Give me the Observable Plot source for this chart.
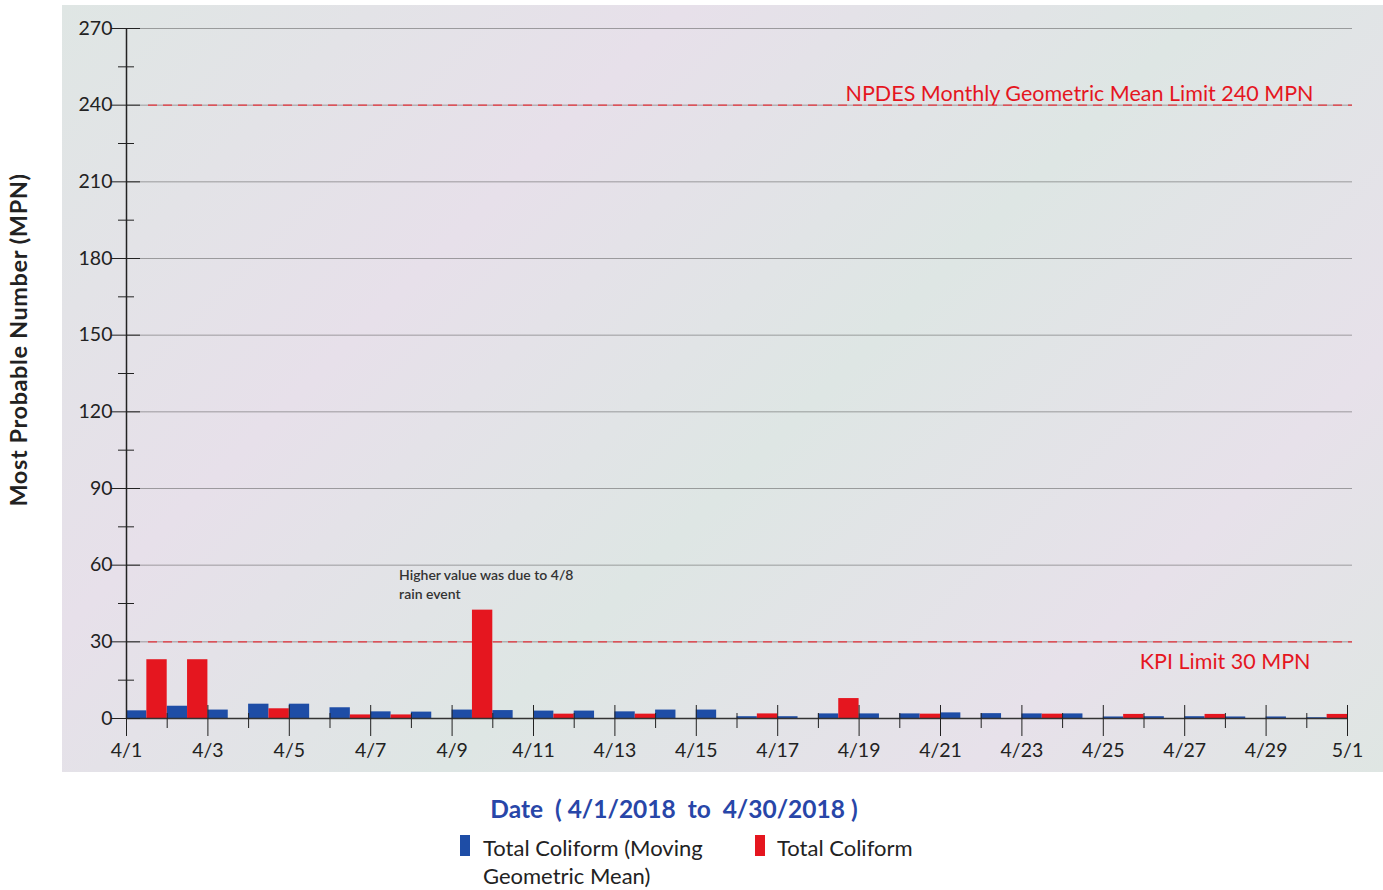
<!DOCTYPE html>
<html>
<head>
<meta charset="utf-8">
<script src="https://cdn.jsdelivr.net/npm/d3@7"></script>
<script src="https://cdn.jsdelivr.net/npm/@observablehq/plot@0.6"></script>
<style>
  body { margin: 0; background: #fff; font-family: Lato, "Open Sans", sans-serif; }
  #page { position: relative; width: 1383px; height: 890px; overflow: hidden; }
  #panel {
    position: absolute; left: 62px; top: 5px; width: 1321px; height: 767px;
    background: linear-gradient(135deg, #dfe6e4 0%, #e7e0ea 30%, #dee6e4 55%, #e7e1ea 80%, #dfe6e3 100%);
  }
  #chart { position: absolute; left: 0; top: 0; }
  #ytitle {
    position: absolute; left: 18px; top: 340px; transform: translate(-50%, -50%) rotate(-90deg);
    font-weight: 700; font-size: 23.5px; color: #222; white-space: nowrap; letter-spacing: 0.6px;
  }
  #xtitle {
    position: absolute; left: 674px; top: 808px; transform: translate(-50%, -50%);
    font-weight: 700; font-size: 24.5px; color: #2846a8; white-space: pre;
  }
  .sw { position: absolute; width: 10px; height: 21px; }
  .lt { position: absolute; font-size: 22px; color: #222; line-height: 28px; white-space: nowrap; }
</style>
</head>
<body>
<div id="page">
  <div id="panel"></div>
  <div id="chart"></div>
  <div id="ytitle">Most Probable Number (MPN)</div>
  <div id="xtitle">Date  ( 4/1/2018  to  4/30/2018 )</div>
  <div class="sw" style="left:460px; top:835px; background:#1e4da6;"></div>
  <div class="lt" style="left:483px; top:834px;">Total Coliform (Moving<br>Geometric Mean)</div>
  <div class="sw" style="left:755px; top:835px; background:#e5161f;"></div>
  <div class="lt" style="left:777px; top:834px;">Total Coliform</div>
</div>
<script>
// Daily sampling dates, April 2018
const dates = [
  "2018-04-01", "2018-04-02", "2018-04-03", "2018-04-04", "2018-04-05",
  "2018-04-06", "2018-04-07", "2018-04-08", "2018-04-09", "2018-04-10",
  "2018-04-11", "2018-04-12", "2018-04-13", "2018-04-14", "2018-04-15",
  "2018-04-16", "2018-04-17", "2018-04-18", "2018-04-19", "2018-04-20",
  "2018-04-21", "2018-04-22", "2018-04-23", "2018-04-24", "2018-04-25",
  "2018-04-26", "2018-04-27", "2018-04-28", "2018-04-29", "2018-04-30"
];

// Total coliform, moving geometric mean (MPN)
const movingGeoMean = [
  3.0, 4.8, 3.3, 5.6, 5.6, 4.2, 2.6, 2.5, 3.3, 3.1,
  2.9, 2.9, 2.6, 3.3, 3.3, 0.7, 0.7, 1.8, 1.8, 1.8,
  2.2, 1.9, 1.8, 1.8, 0.6, 0.7, 0.7, 0.6, 0.6, 0.3
];

// Total coliform, daily sample (MPN); null = no sample that day
const totalColiform = [
  23, 23, null, 3.8, null, 1.4, 1.4, null, 42.4, null,
  1.7, null, 1.7, null, null, 1.8, null, 7.8, null, 1.7,
  null, null, 1.7, null, 1.6, null, 1.6, null, null, 1.6
];

// Regulatory limits
const limitValues = [240, 30];
const limitLabels = ["NPDES Monthly Geometric Mean Limit 240 MPN", "KPI Limit 30 MPN"];

// Annotation
const noteDates = ["2018-04-09"];
const noteTexts = ["Higher value was due to 4/8\nrain event"];

// Axis ticks
const yTicks = [0, 30, 60, 90, 120, 150, 180, 210, 240, 270];
const yMinorTicks = [15, 45, 75, 105, 135, 165, 195, 225, 255];
const xStart = "2018-04-01";
const xEnd = "2018-05-01";

const parse = d3.utcParse("%Y-%m-%d");
const start = parse(xStart), end = parse(xEnd);
const rows = dates.map((d, i) => ({date: parse(d), gm: movingGeoMean[i], tc: totalColiform[i]}));
const sampled = rows.filter(d => d.tc != null);
const midDay = d => d3.utcHour.offset(d, 12);
const nextDay = d => d3.utcDay.offset(d, 1);

const allDays = d3.utcDay.range(start, d3.utcDay.offset(end, 1));
const labeledDays = allDays.filter((d, i) => i % 2 === 0);
const minorDays = allDays.filter((d, i) => i % 2 === 1);

const limits = limitValues.map((v, i) => ({value: v, label: limitLabels[i]}));
const notes = noteDates.map((d, i) => {
  const r = rows.find(row => +row.date === +parse(d));
  return {date: r.date, value: r.tc, text: noteTexts[i]};
});

const RED_LINE = "#e8343c";

const chart = Plot.plot({
  width: 1383,
  height: 790,
  marginLeft: 126,
  marginRight: 36,
  marginTop: 28,
  marginBottom: 72,
  style: {background: "transparent", fontFamily: "Lato, 'Open Sans', sans-serif", fontSize: "19px", color: "#222", overflow: "visible"},
  x: {type: "utc", domain: [start, end], label: null},
  y: {domain: [0, 270], label: null},
  marks: [
    // horizontal grid
    Plot.ruleY(yTicks.filter(v => v > 0), {stroke: "#4a4a4a", strokeWidth: 0.8, strokeOpacity: 0.6, insetRight: -5}),
    // limit lines
    Plot.ruleY(limits, {y: "value", stroke: RED_LINE, strokeWidth: 1.3, strokeDasharray: "9,6", insetLeft: 22, insetRight: -5}),
    // paired daily bars: moving geometric mean (first half of day), daily sample (second half)
    Plot.rectY(rows, {x1: "date", x2: d => midDay(d.date), y: "gm", fill: "#1e4da6"}),
    Plot.rectY(sampled, {x1: d => midDay(d.date), x2: d => nextDay(d.date), y: "tc", fill: "#e5161f"}),
    // axis lines
    Plot.ruleY([0], {stroke: "#333", strokeWidth: 1.3}),
    Plot.ruleX([start], {y1: 0, y2: 270, stroke: "#222", strokeWidth: 1.5}),
    // y ticks crossing the axis line, and labels
    Plot.axisY(yTicks, {tickSize: 29, dx: 14, tickFormat: () => "", label: null, stroke: "#222"}),
    Plot.axisY(yMinorTicks, {tickSize: 16, dx: 8, tickFormat: () => "", label: null, stroke: "#222"}),
    Plot.axisY(yTicks, {tickSize: 0, tickPadding: 14, label: null, fontSize: 19.5, fill: "#222"}),
    // x ticks and labels
    Plot.axisX(labeledDays, {tickSize: 31, dy: -13, tickFormat: () => "", label: null, stroke: "#222"}),
    Plot.axisX(minorDays, {tickSize: 15, dy: -5, tickFormat: () => "", label: null, stroke: "#222"}),
    Plot.axisX(labeledDays, {tickSize: 0, tickPadding: 25, tickFormat: d3.utcFormat("%-m/%-d"), label: null, fontSize: 19.5, fill: "#222"}),
    // limit labels
    Plot.text(limits.slice(0, 1), {y: "value", text: "label", frameAnchor: "right", textAnchor: "end", dx: -34, dy: -11, fill: "#e5161f", fontSize: 21.5}),
    Plot.text(limits.slice(1), {y: "value", text: "label", frameAnchor: "right", textAnchor: "end", dx: -37, dy: 20, fill: "#e5161f", fontSize: 21.5}),
    // annotation above the high sample
    Plot.text(notes, {x: "date", y: "value", text: "text", textAnchor: "start", lineAnchor: "bottom", dx: -53, dy: -11, fontSize: 14, fontWeight: 600, fill: "#333", lineHeight: 1.35})
  ]
});

document.getElementById("chart").appendChild(chart);
</script>
</body>
</html>
